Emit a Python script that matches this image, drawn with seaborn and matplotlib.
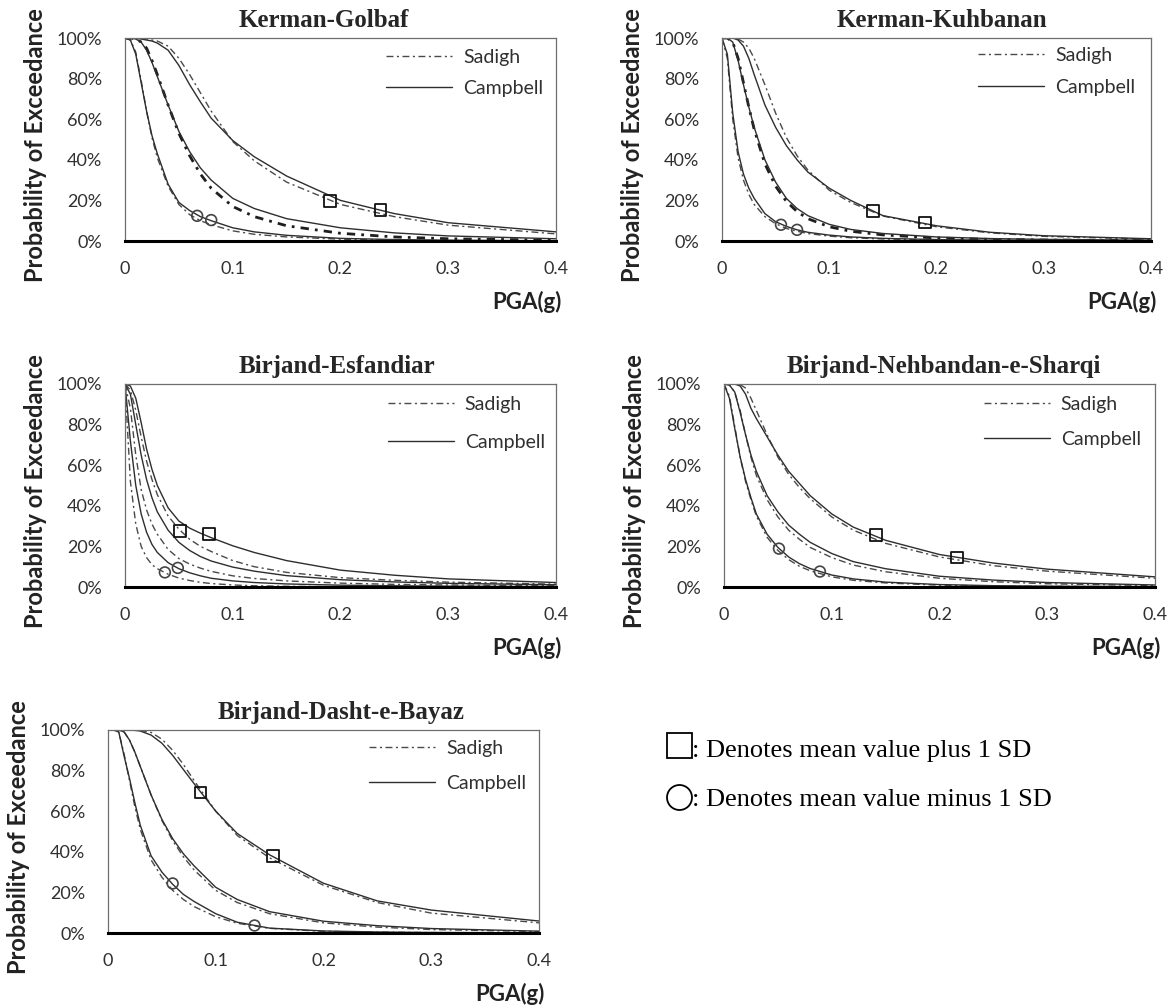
import matplotlib
matplotlib.use("Agg")
import matplotlib.pyplot as plt
import matplotlib.lines as mlines
from matplotlib.ticker import FuncFormatter
import seaborn as sns

# ---------------- data ----------------
pga = [0, 0.005, 0.01, 0.015, 0.02, 0.025, 0.03, 0.04, 0.05, 0.06, 0.07, 0.08,
       0.10, 0.12, 0.15, 0.20, 0.25, 0.30, 0.40]

# Kerman-Golbaf (percent)
golbaf_sadigh_lo = [100, 99, 93, 79, 64, 51, 41, 27, 18, 13, 10, 8, 5, 3.3, 2, 0.9, 0.4, 0.2, 0.05]
golbaf_sadigh_mid = [100, 100, 99.5, 98, 95, 89, 82, 67, 53, 42, 33, 26, 17, 12, 7.5, 3.8, 2, 1.1, 0.4]
golbaf_sadigh_hi = [100, 100, 100, 99.8, 99.5, 99, 98.5, 96, 90, 82, 73, 64, 49, 39.5, 29, 18, 12, 7.8, 3.5]
golbaf_campbell_lo = [100, 99, 92, 78, 64, 52, 43, 28, 19, 15, 12, 10, 6.5, 4.5, 2.8, 1.3, 0.7, 0.4, 0.1]
golbaf_campbell_mid = [100, 100, 99.5, 98, 94, 88, 81, 67, 54, 44, 36, 30, 21, 16, 11, 6.5, 4, 2.5, 1.1]
golbaf_campbell_hi = [100, 100, 99.8, 99.5, 99, 98.5, 97.5, 94, 86.5, 77, 68.5, 60.5, 49.5, 41.5, 32, 20, 13.5, 9, 4.5]
golbaf_sq_x, golbaf_sq_y = [0.190, 0.237], [19.6, 15.2]
golbaf_ci_x, golbaf_ci_y = [0.067, 0.080], [12.4, 10.3]

# Kerman-Kuhbanan
kuhbanan_sadigh_lo = [100, 90, 60, 41, 30, 23, 18, 12, 8.5, 6.2, 4.8, 3.7, 2.4, 1.6, 1, 0.5, 0.3, 0.15, 0.05]
kuhbanan_sadigh_mid = [100, 100, 98, 90, 78, 66, 55, 38, 27, 19.5, 14.5, 11, 7, 4.8, 3, 1.5, 0.8, 0.5, 0.2]
kuhbanan_sadigh_hi = [100, 100, 100, 99.5, 98, 95, 90, 77, 63, 51, 42, 35, 25, 19, 12.3, 7, 4, 2.3, 0.9]
kuhbanan_campbell_lo = [100, 92, 63, 44, 33, 26, 21, 13.5, 9.5, 7.2, 5.5, 4.3, 2.9, 2, 1.3, 0.7, 0.4, 0.25, 0.1]
kuhbanan_campbell_mid = [100, 100, 98, 89, 77, 66, 56, 40, 29, 21, 16, 12.5, 8.2, 5.7, 3.7, 2, 1.2, 0.8, 0.4]
kuhbanan_campbell_hi = [100, 100, 100, 99, 96, 90, 82, 67, 56, 47, 40, 34, 26, 20, 12.5, 7.5, 4.3, 2.6, 1.1]
kuhbanan_sq_x, kuhbanan_sq_y = [0.141, 0.189], [14.7, 9.1]
kuhbanan_ci_x, kuhbanan_ci_y = [0.055, 0.070], [8.0, 5.5]

# Birjand-Esfandiar
esfandiar_sadigh_lo = [100, 52, 31, 20, 14.5, 11, 9, 6.3, 4.4, 3.2, 2.3, 1.7, 1, 0.6, 0.35, 0.15, 0.08, 0.05, 0.02]
esfandiar_sadigh_mid = [100, 88, 65, 48, 38, 31, 26, 18.5, 14, 11.3, 9.3, 7.7, 5.5, 4.2, 3, 1.9, 1.3, 1, 0.6]
esfandiar_sadigh_hi = [100, 97, 87, 74, 62, 53, 45.5, 35, 28.5, 23.5, 20, 17.5, 13, 10, 7.2, 4.6, 3.3, 2.4, 1.4]
esfandiar_campbell_lo = [100, 72, 50, 36, 27, 21, 17, 12, 9, 7, 5.5, 4.3, 3, 2.2, 1.5, 0.9, 0.6, 0.4, 0.2]
esfandiar_campbell_mid = [100, 95, 80, 65, 53, 44, 37, 28, 22, 18, 15, 12.8, 9.8, 7.8, 5.6, 3.6, 2.5, 1.8, 1.1]
esfandiar_campbell_hi = [100, 99, 93, 81, 68, 58, 50, 39, 32.5, 29, 26.5, 24.3, 20.3, 17, 13, 8.3, 5.8, 4, 2.2]
esfandiar_sq_x, esfandiar_sq_y = [0.051, 0.078], [27.7, 26.1]
esfandiar_ci_x, esfandiar_ci_y = [0.037, 0.049], [7.2, 9.4]

# Birjand-Nehbandan-e-Sharqi
nehbandan_sadigh_lo = [100, 94, 79, 64, 52, 43, 35, 24.5, 18, 13.5, 10.2, 8, 5, 3.3, 2, 0.9, 0.5, 0.3, 0.1]
nehbandan_sadigh_mid = [100, 99.5, 96, 87, 75, 64, 55, 43, 34.5, 28, 23.5, 19.5, 14.5, 10.8, 7.5, 4.3, 2.6, 1.6, 0.7]
nehbandan_sadigh_hi = [100, 100, 100, 99.7, 98, 93, 87, 75, 64, 55.5, 49, 43.5, 34.5, 28, 21.5, 14.8, 10.5, 7.8, 4.3]
nehbandan_campbell_lo = [100, 93, 78, 64, 53, 44, 36, 26, 19.5, 14.8, 11.5, 9.1, 5.9, 4, 2.4, 1.2, 0.65, 0.4, 0.15]
nehbandan_campbell_mid = [100, 99.5, 96, 86, 75, 65, 57, 45, 37, 30.5, 26, 22, 16.5, 12.5, 9, 5.3, 3.4, 2.2, 1]
nehbandan_campbell_hi = [100, 100, 100, 99, 95, 88, 83, 74, 65, 57, 51, 45, 36, 29.5, 23, 16, 11.8, 8.8, 5]
nehbandan_sq_x, nehbandan_sq_y = [0.141, 0.216], [25.7, 14.5]
nehbandan_ci_x, nehbandan_ci_y = [0.051, 0.089], [18.9, 7.6]

# Birjand-Dasht-e-Bayaz
dasht_sadigh_lo = [100, 100, 99, 88, 75, 62, 51, 36, 27.5, 21, 16.5, 13, 8, 4.8, 2.3, 0.8, 0.4, 0.2, 0.05]
dasht_sadigh_mid = [100, 100, 100, 99, 95, 89, 82, 68, 55.5, 45.5, 37.5, 31, 21, 15, 9.5, 5, 2.9, 1.7, 0.7]
dasht_sadigh_hi = [100, 100, 100, 100, 100, 100, 99.8, 98.8, 95.5, 90, 83, 75, 60, 48, 37, 23.5, 15, 9.8, 5]
dasht_campbell_lo = [100, 100, 99, 87, 76, 64, 53, 38, 30, 24, 19, 15.5, 9.5, 5.3, 2.4, 1, 0.5, 0.25, 0.1]
dasht_campbell_mid = [100, 100, 100, 99, 95, 89, 82, 68, 56, 46.5, 39, 33, 22.5, 16.5, 10.5, 5.8, 3.6, 2.2, 0.9]
dasht_campbell_hi = [100, 100, 100, 100, 100, 99.8, 99.5, 97.5, 93.5, 87.5, 80.5, 73.5, 60, 49, 38.5, 24.5, 15.8, 11.3, 5.9]
dasht_sq_x, dasht_sq_y = [0.086, 0.153], [69.2, 37.9]
dasht_ci_x, dasht_ci_y = [0.060, 0.136], [24.4, 3.7]

titles = ["Kerman-Golbaf", "Kerman-Kuhbanan", "Birjand-Esfandiar",
          "Birjand-Nehbandan-e-Sharqi", "Birjand-Dasht-e-Bayaz"]
model_names = ["Sadigh", "Campbell"]
x_ticks = [0, 0.1, 0.2, 0.3, 0.4]
x_tick_labels = ["0", "0.1", "0.2", "0.3", "0.4"]
y_ticks = [0, 20, 40, 60, 80, 100]
note_plus = ": Denotes mean value plus 1 SD"
note_minus = ": Denotes mean value minus 1 SD"

# ---------------- style ----------------
sns.set_theme(style="white")
plt.rcParams["font.family"] = ["Lato", "DejaVu Sans"]

W, H = 1175, 1008
fig = plt.figure(figsize=(W / 100, H / 100), dpi=100)

SAD_COLOR = "#4a4a4a"
CAMP_COLOR = "#2e2e2e"
SAD_DASH = (0, (5, 2.5, 1.5, 2.5))

def rect(x0, x1, y0, y1):
    return [x0 / W, 1 - y1 / H, (x1 - x0) / W, (y1 - y0) / H]

panels = [
    dict(title=titles[0], rect=rect(125, 556, 38, 241), tx=0.462,
         sad=(golbaf_sadigh_lo, golbaf_sadigh_mid, golbaf_sadigh_hi),
         camp=(golbaf_campbell_lo, golbaf_campbell_mid, golbaf_campbell_hi),
         sq=(golbaf_sq_x, golbaf_sq_y), ci=(golbaf_ci_x, golbaf_ci_y),
         leg=(0.606, 0.946, 0.71), bold_mid=True),
    dict(title=titles[1], rect=rect(722, 1151, 38, 241), tx=0.513,
         sad=(kuhbanan_sadigh_lo, kuhbanan_sadigh_mid, kuhbanan_sadigh_hi),
         camp=(kuhbanan_campbell_lo, kuhbanan_campbell_mid, kuhbanan_campbell_hi),
         sq=(kuhbanan_sq_x, kuhbanan_sq_y), ci=(kuhbanan_ci_x, kuhbanan_ci_y),
         leg=(0.597, 0.956, 0.76), bold_mid=True),
    dict(title=titles[2], rect=rect(125, 556, 384, 587), tx=0.492,
         sad=(esfandiar_sadigh_lo, esfandiar_sadigh_mid, esfandiar_sadigh_hi),
         camp=(esfandiar_campbell_lo, esfandiar_campbell_mid, esfandiar_campbell_hi),
         sq=(esfandiar_sq_x, esfandiar_sq_y), ci=(esfandiar_ci_x, esfandiar_ci_y),
         leg=(0.610, 0.941, 1.07), bold_mid=False),
    dict(title=titles[3], rect=rect(724, 1155, 384, 587), tx=0.511,
         sad=(nehbandan_sadigh_lo, nehbandan_sadigh_mid, nehbandan_sadigh_hi),
         camp=(nehbandan_campbell_lo, nehbandan_campbell_mid, nehbandan_campbell_hi),
         sq=(nehbandan_sq_x, nehbandan_sq_y), ci=(nehbandan_ci_x, nehbandan_ci_y),
         leg=(0.603, 0.941, 0.91), bold_mid=False),
    dict(title=titles[4], rect=rect(108, 539, 730, 933), tx=0.54,
         sad=(dasht_sadigh_lo, dasht_sadigh_mid, dasht_sadigh_hi),
         camp=(dasht_campbell_lo, dasht_campbell_mid, dasht_campbell_hi),
         sq=(dasht_sq_x, dasht_sq_y), ci=(dasht_ci_x, dasht_ci_y),
         leg=(0.606, 0.951, 0.91), bold_mid=False),
]

for p in panels:
    ax = fig.add_axes(p["rect"])
    for i, vals in enumerate(p["sad"]):
        thick = p["bold_mid"] and i == 1
        sns.lineplot(x=pga, y=vals, ax=ax, estimator=None, sort=False,
                     color="#1e1e1e" if thick else SAD_COLOR,
                     linewidth=2.0 if thick else 1.0,
                     linestyle=(0, (3, 2.2, 1, 2.2)) if thick else SAD_DASH)
    for vals in p["camp"]:
        sns.lineplot(x=pga, y=vals, ax=ax, estimator=None, sort=False,
                     color=CAMP_COLOR, linewidth=1.0, linestyle="-")
    sns.scatterplot(x=p["sq"][0], y=p["sq"][1], ax=ax, marker="s", s=70,
                    facecolor="none", edgecolor="#111111", linewidth=1.3, zorder=5)
    sns.scatterplot(x=p["ci"][0], y=p["ci"][1], ax=ax, marker="o", s=60,
                    facecolor="none", edgecolor="#444444", linewidth=1.2, zorder=5)

    ax.set_xlim(0, 0.4)
    ax.set_ylim(0, 100)
    ax.set_xticks(x_ticks)
    ax.set_xticklabels(x_tick_labels)
    ax.set_yticks(y_ticks)
    ax.yaxis.set_major_formatter(FuncFormatter(lambda v, _: f"{v:.0f}%"))
    ax.tick_params(axis="both", length=0, labelsize=13, colors="#303030")
    ax.tick_params(axis="y", pad=16.5)
    ax.tick_params(axis="x", pad=14.5)
    for side in ("top", "right", "left"):
        ax.spines[side].set_visible(True)
        ax.spines[side].set_color("#6e6e6e")
        ax.spines[side].set_linewidth(0.9)
    ax.spines["bottom"].set_color("black")
    ax.spines["bottom"].set_linewidth(2.2)

    ax.set_title(p["title"], x=p["tx"], y=1.085, va="center", pad=0,
                 fontfamily="Liberation Serif", fontweight="bold", fontsize=18)
    ax.set_ylabel("Probability of Exceedance", fontweight="bold", fontsize=17,
                  color="#222222")
    ax.yaxis.set_label_coords(-0.208, 0.475)
    ax.yaxis.label.set_va("center")
    ax.set_xlabel("PGA(g)", fontweight="bold", fontsize=16, color="#222222")
    ax.xaxis.set_label_coords(1.013, -0.30)
    ax.xaxis.label.set_ha("right")
    ax.xaxis.label.set_va("center")

    handles = [mlines.Line2D([], [], color=SAD_COLOR, lw=1.0, linestyle=SAD_DASH),
               mlines.Line2D([], [], color=CAMP_COLOR, lw=1.0, linestyle="-")]
    lx, ly, ls = p["leg"]
    ax.legend(handles, model_names, loc="upper left", bbox_to_anchor=(lx, ly),
              frameon=False, borderaxespad=0, borderpad=0, handlelength=3.4,
              handletextpad=0.55, labelspacing=ls, fontsize=14,
              labelcolor="#303030")

# ------------- symbol notes (bottom right) -------------
fig.add_artist(mlines.Line2D([678.5 / W], [1 - 745 / H], marker="s", markersize=18,
                             markerfacecolor="none", markeredgecolor="black",
                             markeredgewidth=1.3, transform=fig.transFigure))
fig.add_artist(mlines.Line2D([678.5 / W], [1 - 797 / H], marker="o", markersize=18,
                             markerfacecolor="none", markeredgecolor="black",
                             markeredgewidth=1.3, transform=fig.transFigure))
fig.text(692 / W, 1 - 757 / H, note_plus, fontfamily="Liberation Serif",
         fontsize=19, va="baseline", ha="left", color="black")
fig.text(692 / W, 1 - 806 / H, note_minus, fontfamily="Liberation Serif",
         fontsize=19, va="baseline", ha="left", color="black")

fig.savefig("out.png", dpi=100, facecolor="white")
